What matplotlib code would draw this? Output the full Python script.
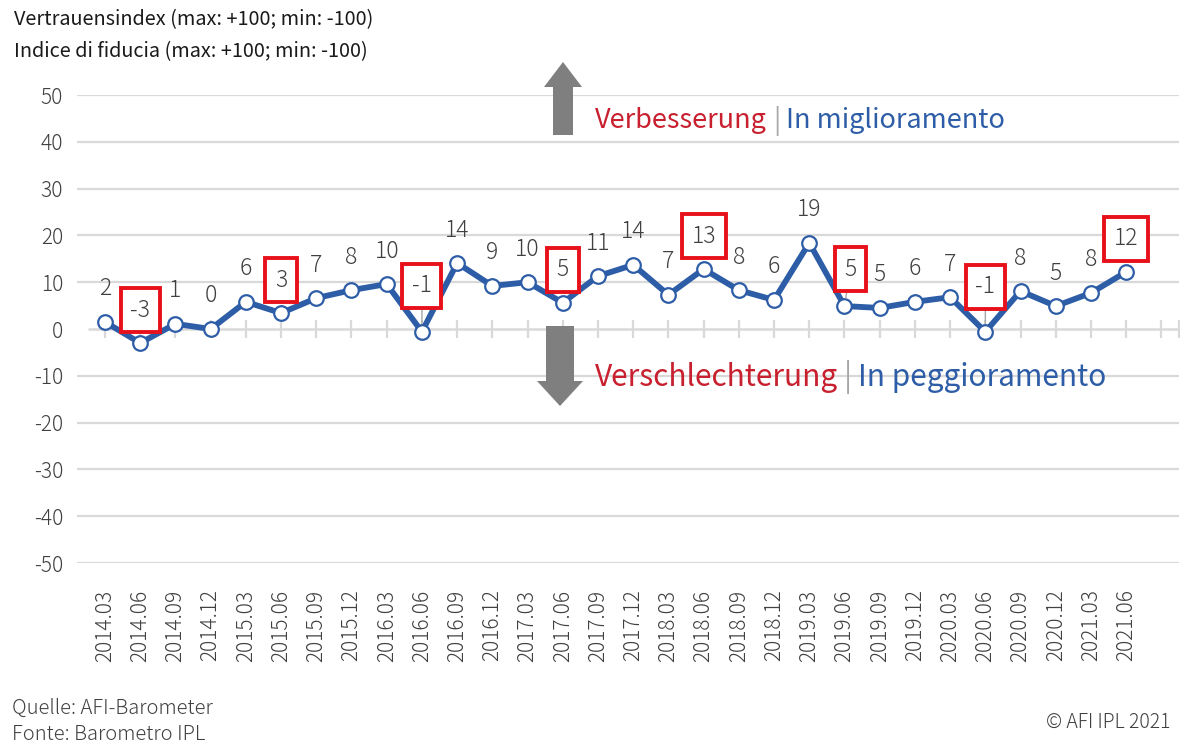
import matplotlib
matplotlib.use("Agg")
import matplotlib.pyplot as plt
from matplotlib.patches import Polygon

plt.rcParams['font.family'] = ['Noto Sans CJK JP', 'DejaVu Sans']

# ---------------- data ----------------
quarters = ["2014.03", "2014.06", "2014.09", "2014.12", "2015.03", "2015.06",
            "2015.09", "2015.12", "2016.03", "2016.06", "2016.09", "2016.12",
            "2017.03", "2017.06", "2017.09", "2017.12", "2018.03", "2018.06",
            "2018.09", "2018.12", "2019.03", "2019.06", "2019.09", "2019.12",
            "2020.03", "2020.06", "2020.09", "2020.12", "2021.03", "2021.06"]
values = [1.5, -3.0, 1.1, 0.0, 5.8, 3.4, 6.6, 8.3, 9.6, -0.6, 14.1, 9.2,
          10.0, 5.6, 11.3, 13.7, 7.3, 12.8, 8.3, 6.2, 18.4, 4.9, 4.5, 5.8,
          6.8, -0.6, 8.1, 4.9, 7.7, 12.2]
labels = [2, -3, 1, 0, 6, 3, 7, 8, 10, -1, 14, 9, 10, 5, 11, 14, 7, 13, 8, 6,
          19, 5, 5, 6, 7, -1, 8, 5, 8, 12]
boxed = ["2014.06", "2015.06", "2016.06", "2017.06", "2018.06", "2019.06",
         "2020.06", "2021.06"]
yticks = [-50, -40, -30, -20, -10, 0, 10, 20, 30, 40, 50]

# ---------------- style ----------------
W, H = 1184, 749
LINE = '#2E5DA7'
GRID = '#D9D9D9'
TXT = '#404040'
RED = '#E8101A'
LIGHT = 'light'

fig = plt.figure(figsize=(W / 100, H / 100), dpi=100)


def fx(px):
    return px / W


def fy(py):
    return 1 - py / H


ax = fig.add_axes([fx(77), fy(563), fx(1179) - fx(77), fy(95) - fy(563)])
n = len(quarters)
x = list(range(n))
ax.set_xlim((77 - 105) / 35.2, n + 0.5)
ax.set_ylim(-50, 50)

for s in ax.spines.values():
    s.set_visible(False)
ax.set_yticks(yticks)
ax.set_yticklabels([str(v) for v in yticks], fontsize=15, color=TXT,
                   fontweight=LIGHT)
ax.tick_params(axis='y', length=0, pad=10)
for v in yticks:
    if v != 0:
        ax.axhline(v, color=GRID, lw=1.6, zorder=0)
# zero axis line with category ticks
ax.plot([-0.48, n + 0.5], [0, 0], color=GRID, lw=1.8, zorder=1,
        solid_capstyle='butt')
ax.plot(list(range(n + 1)) + [n + 0.5], [0] * (n + 2), ls='none',
        marker='|', ms=13, mew=1.6, color=GRID, zorder=1)

ax.set_xticks(x)
ax.set_xticklabels(quarters, rotation=90, fontsize=15, color=TXT,
                   fontweight=LIGHT)
ax.tick_params(axis='x', length=0, pad=19)

ax.plot(x, values, color=LINE, lw=4.2, marker='o', ms=10.5, mfc='white',
        mec=LINE, mew=1.6, zorder=3)

# label nudges (pixels) for labels moved away from the point
nudge = {"2016.06": (0, 13), "2019.06": (6, 4), "2020.06": (0, 12)}
for i, (q, v, lab) in enumerate(zip(quarters, values, labels)):
    dx, dy = nudge.get(q, (0, 0))
    kw = {}
    if q in boxed:
        kw['bbox'] = dict(boxstyle='square,pad=0.42', fc='white', ec=RED,
                          lw=2.8)
    if q in nudge:
        kw['arrowprops'] = dict(arrowstyle='-', color='#A6A6A6', lw=1.0,
                                shrinkA=0, shrinkB=6)
    ax.annotate(str(lab), xy=(i, v), xytext=(dx, 33 + dy),
                textcoords='offset pixels', ha='center', va='center',
                fontsize=16.5, color=TXT, fontweight=LIGHT, zorder=4, **kw)

# ---------------- arrows ----------------
ARROW = '#7F7F7F'


def arrow(cx, ytip, ybase, yend, half_head, half_shaft):
    pts = [(cx, ytip), (cx + half_head, ybase), (cx + half_shaft, ybase),
           (cx + half_shaft, yend), (cx - half_shaft, yend),
           (cx - half_shaft, ybase), (cx - half_head, ybase)]
    fig.patches.append(Polygon([(fx(a), fy(b)) for a, b in pts],
                               closed=True, transform=fig.transFigure,
                               fc=ARROW, ec='none'))


arrow(563, 62, 87, 135, 19, 10)
arrow(560, 406, 381, 326, 23, 14)

# ---------------- multi-colour captions ----------------
fig.canvas.draw()
renderer = fig.canvas.get_renderer()


def multi(x0, yc, parts, size):
    xp = x0
    for txt, col, gap in parts:
        t = fig.text(fx(xp), fy(yc), txt, color=col, fontsize=size,
                     ha='left', va='center')
        bb = t.get_window_extent(renderer)
        xp += bb.width + gap


multi(595, 121, [("Verbesserung", '#C8202F', 6), ("|", '#A6A6A6', 6),
                 ("In miglioramento", LINE, 0)], 19.5)
multi(595, 377, [("Verschlechterung", '#C8202F', 6), ("|", '#A6A6A6', 6),
                 ("In peggioramento", LINE, 0)], 21.5)

# ---------------- titles & footers ----------------
fig.text(fx(14), fy(20), "Vertrauensindex (max: +100; min: -100)",
         fontsize=14.3, color='#1A1A1A', ha='left', va='center')
fig.text(fx(14), fy(52), "Indice di fiducia (max: +100; min: -100)",
         fontsize=14.3, color='#1A1A1A', ha='left', va='center')
fig.text(fx(12), fy(708), "Quelle: AFI-Barometer", fontsize=14.5, color=TXT,
         ha='left', va='center', fontweight=LIGHT)
fig.text(fx(12), fy(735), "Fonte: Barometro IPL", fontsize=14.5, color=TXT,
         ha='left', va='center', fontweight=LIGHT)
fig.text(fx(1170), fy(722), "© AFI IPL 2021", fontsize=14, color=TXT,
         ha='right', va='center', fontweight=LIGHT)

fig.savefig("out.png", dpi=100)
